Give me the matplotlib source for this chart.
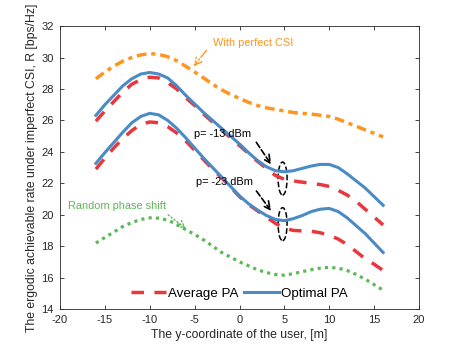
import numpy as np
import matplotlib
matplotlib.use("Agg")
import matplotlib.pyplot as plt
from matplotlib.patches import Ellipse

plt.rcParams['font.family'] = ['Liberation Sans', 'DejaVu Sans']
plt.rcParams['axes.unicode_minus'] = False

# y-coordinate of the user [m]
y_pos = list(range(-16, 17))

# rates [bps/Hz]
rate_perfect_csi = [28.65, 29.08, 29.45, 29.77, 30.0, 30.17, 30.25, 30.2, 30.05, 29.8, 29.45,
                    29.08, 28.7, 28.3, 27.95, 27.65, 27.4, 27.15, 26.95, 26.8, 26.7, 26.6,
                    26.5, 26.45, 26.4, 26.33, 26.25, 26.08, 25.85, 25.63, 25.4, 25.18, 24.95]
rate_opt_13 = [26.32, 27.0, 27.6, 28.2, 28.65, 28.95, 29.05, 28.95, 28.7, 28.2, 27.6,
               27.05, 26.5, 26.0, 25.5, 25.0, 24.5, 23.95, 23.45, 23.05, 22.8, 22.73,
               22.8, 22.95, 23.1, 23.2, 23.2, 23.0, 22.6, 22.15, 21.7, 21.15, 20.6]
rate_avg_13 = [25.95, 26.6, 27.2, 27.8, 28.3, 28.6, 28.75, 28.7, 28.4, 28.0, 27.45,
               26.95, 26.4, 25.9, 25.4, 24.9, 24.4, 23.9, 23.4, 22.95, 22.5, 22.25,
               22.15, 22.07, 22.0, 21.92, 21.8, 21.55, 21.25, 20.85, 20.35, 19.85, 19.35]
rate_opt_23 = [23.27, 23.95, 24.6, 25.25, 25.85, 26.25, 26.45, 26.35, 26.0, 25.5, 24.9,
               24.25, 23.6, 23.0, 22.4, 21.8, 21.2, 20.7, 20.3, 19.95, 19.7, 19.62,
               19.75, 19.95, 20.2, 20.35, 20.4, 20.2, 19.8, 19.3, 18.8, 18.2, 17.6]
rate_avg_23 = [22.9, 23.6, 24.25, 24.85, 25.35, 25.75, 25.9, 25.85, 25.6, 25.2, 24.7,
               24.1, 23.5, 22.9, 22.35, 21.75, 21.15, 20.65, 20.25, 19.85, 19.45, 19.15,
               19.0, 18.97, 18.95, 18.85, 18.7, 18.45, 18.1, 17.65, 17.2, 16.85, 16.45]
rate_random = [18.2, 18.55, 18.9, 19.25, 19.5, 19.7, 19.8, 19.78, 19.65, 19.4, 19.05,
               18.75, 18.4, 18.0, 17.6, 17.3, 17.0, 16.75, 16.5, 16.32, 16.2, 16.15,
               16.25, 16.38, 16.5, 16.6, 16.65, 16.6, 16.45, 16.2, 15.9, 15.55, 15.2]

x_ticks = [-20, -15, -10, -5, 0, 5, 10, 15, 20]
y_ticks = [14, 16, 18, 20, 22, 24, 26, 28, 30, 32]

c_blue = '#4a8bc6'
c_red = '#e8383d'
c_orange = '#ff941f'
c_green = '#5cb85a'
c_axis = '#262626'

fig = plt.figure(figsize=(4.63, 3.48), dpi=100)
ax = fig.add_axes([0.1296, 0.112, 0.7754, 0.813])

ax.plot(y_pos, rate_perfect_csi, color=c_orange, lw=2.5, dashes=(2.8, 1.4, 1.2, 1.4))
l_avg, = ax.plot(y_pos, rate_avg_13, color=c_red, lw=2.5, dashes=(3.6, 3.0))
ax.plot(y_pos, rate_avg_23, color=c_red, lw=2.5, dashes=(3.6, 3.0))
l_opt, = ax.plot(y_pos, rate_opt_13, color=c_blue, lw=2.2)
ax.plot(y_pos, rate_opt_23, color=c_blue, lw=2.2)
ax.plot(y_pos, rate_random, color=c_green, lw=2.3, dashes=(1, 1.3))

# annotations
ax.text(-2.9, 30.95, 'With perfect CSI', color=c_orange, fontsize=7.9, va='center')
ax.annotate('', xy=(-5.3, 29.3), xytext=(-3.5, 30.6),
            arrowprops=dict(arrowstyle='->', color=c_orange, lw=1, ls='-.',
                            mutation_scale=13))
ax.text(-19.1, 20.55, 'Random phase shift', color=c_green, fontsize=7.9, va='center')
ax.annotate('', xy=(-5.7, 19.0), xytext=(-8.2, 20.1),
            arrowprops=dict(arrowstyle='->', color=c_green, lw=1, ls=':',
                            mutation_scale=13))
ax.text(-5.1, 25.15, 'p= -13 dBm', color='black', fontsize=7.9, va='center')
ax.annotate('', xy=(3.7, 23.05), xytext=(1.7, 24.75),
            arrowprops=dict(arrowstyle='->', color='black', lw=1.2, ls='--',
                            mutation_scale=14))
ax.text(-4.8, 22.1, 'p= -23 dBm', color='black', fontsize=7.9, va='center')
ax.annotate('', xy=(3.7, 20.1), xytext=(1.7, 21.65),
            arrowprops=dict(arrowstyle='->', color='black', lw=1.2, ls='--',
                            mutation_scale=14))
for yc in [22.3, 19.4]:
    ax.add_patch(Ellipse((4.8, yc), 1.0, 2.1, fill=False, ec='black', lw=1.1, ls='--'))

ax.set_xlim(-20, 20)
ax.set_ylim(14, 32)
ax.set_xticks(x_ticks)
ax.set_yticks(y_ticks)
ax.tick_params(direction='in', top=True, right=True, length=3, width=0.6,
               labelsize=8, colors=c_axis, pad=4.5)
for s in ax.spines.values():
    s.set_color(c_axis)
    s.set_linewidth(0.6)

ax.set_xlabel('The y-coordinate of the user, [m]', fontsize=8.8, color=c_axis, labelpad=3)
ax.set_ylabel('The ergodic achievable rate under imperfect CSI, R [bps/Hz]',
              fontsize=8.8, color=c_axis, labelpad=2)

ax.legend([l_avg, l_opt], ['Average PA', 'Optimal PA'], loc='lower center',
          ncol=2, frameon=False, fontsize=9.6, handlelength=2.6, handletextpad=0.2,
          columnspacing=0.4, bbox_to_anchor=(0.5, -0.01))

fig.savefig('out.png', dpi=100)
